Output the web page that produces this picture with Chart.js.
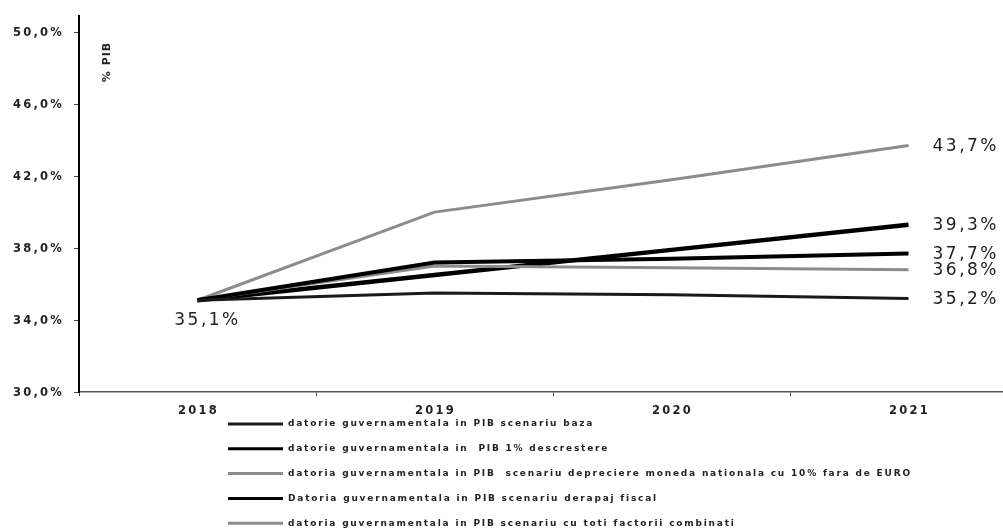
<!DOCTYPE html>
<html>
<head>
  <title>Datoria guvernamentala in PIB</title>
  <script src="https://cdn.jsdelivr.net/npm/chart.js"></script>
  <style>
    html, body {
      margin: 0;
      padding: 0;
      background: #ffffff;
      overflow: hidden;
    }
  </style>
</head>
<body>
<canvas id="debtChart" width="1040" height="529"></canvas>

<script>
  // data
  const years = ['2018', '2019', '2020', '2021'];
  const baza = [35.1, 35.5, 35.4, 35.2];
  const descrestere = [35.1, 37.2, 37.4, 37.7];
  const depreciere = [35.1, 37.0, 36.9, 36.8];
  const derapaj = [35.1, 36.5, 37.9, 39.3];
  const combinati = [35.1, 40.0, 41.8, 43.7];
  const yTicks = [30, 34, 38, 42, 46, 50];
  const seriesNames = [
    'datorie guvernamentala in PIB scenariu baza',
    'datorie guvernamentala in  PIB 1% descrestere',
    'datoria guvernamentala in PIB  scenariu depreciere moneda nationala cu 10% fara de EURO',
    'Datoria guvernamentala in PIB scenariu derapaj fiscal',
    'datoria guvernamentala in PIB scenariu cu toti factorii combinati'
  ];

  const fmt = v => v.toFixed(1).replace('.', ',') + '%';

  // all the text is drawn here so it can get the wide letter spacing of the original
  const textPlugin = {
    id: 'textPlugin',
    afterDraw(chart) {
      const ctx = chart.ctx;
      const xs = chart.scales.x;
      const ys = chart.scales.y;
      ctx.save();
      ctx.fillStyle = '#222';
      ctx.textBaseline = 'middle';

      // y tick labels
      ctx.font = 'bold 11.5px "DejaVu Sans"';
      ctx.letterSpacing = '2.2px';
      ctx.textAlign = 'right';
      yTicks.forEach(v => {
        ctx.fillText(fmt(v), 64, ys.getPixelForValue(v) + 1);
      });

      // x labels
      ctx.textAlign = 'center';
      years.forEach((y, i) => {
        ctx.fillText(y, xs.getPixelForValue(i) + 1, 411);
      });

      // % PIB
      ctx.save();
      ctx.translate(107, 62);
      ctx.rotate(-Math.PI / 2);
      ctx.font = 'bold 11px "DejaVu Sans"';
      ctx.letterSpacing = '1px';
      ctx.fillText('% PIB', 0, 0);
      ctx.restore();

      // value labels
      ctx.font = '17px "DejaVu Sans"';
      ctx.letterSpacing = '2.5px';
      ctx.textAlign = 'left';
      const lastX = xs.getPixelForValue(years.length - 1);
      chart.data.datasets.forEach(ds => {
        const v = ds.data[ds.data.length - 1];
        ctx.fillText(fmt(v), lastX + 24, ys.getPixelForValue(v) + 1);
      });
      ctx.textAlign = 'center';
      ctx.fillText(fmt(baza[0]), xs.getPixelForValue(0) + 10, ys.getPixelForValue(baza[0]) + 20);

      // legend
      ctx.font = 'bold 9px "DejaVu Sans"';
      ctx.letterSpacing = '1.8px';
      ctx.textAlign = 'left';
      chart.data.datasets.forEach((ds, i) => {
        const y = 424 + i * 24.8;
        ctx.strokeStyle = ds.borderColor;
        ctx.lineWidth = Math.min(ds.borderWidth, 3);
        ctx.beginPath();
        ctx.moveTo(228, y);
        ctx.lineTo(283, y);
        ctx.stroke();
        ctx.fillText(ds.label, 288, y);
      });
      ctx.restore();
    }
  };

  const ctx = document.getElementById('debtChart').getContext('2d');
  new Chart(ctx, {
    type: 'line',
    data: {
      labels: years,
      datasets: [
        { label: seriesNames[0], data: baza, borderColor: '#1a1a1a', borderWidth: 3 },
        { label: seriesNames[1], data: descrestere, borderColor: '#000000', borderWidth: 4 },
        { label: seriesNames[2], data: depreciere, borderColor: '#8c8c8c', borderWidth: 3 },
        { label: seriesNames[3], data: derapaj, borderColor: '#000000', borderWidth: 4.5 },
        { label: seriesNames[4], data: combinati, borderColor: '#8c8c8c', borderWidth: 3 }
      ].map(ds => Object.assign(ds, { pointRadius: 0, fill: false, tension: 0 }))
    },
    options: {
      responsive: false,
      animation: false,
      layout: { padding: { left: 74, right: 13, top: 16, bottom: 133 } },
      plugins: {
        legend: { display: false },
        tooltip: { enabled: false }
      },
      scales: {
        x: {
          offset: true,
          grid: { offset: true, drawOnChartArea: false, tickLength: 4, color: '#444' },
          border: { color: '#555', width: 1.5 },
          ticks: { display: false }
        },
        y: {
          min: 30,
          max: 50.9,
          afterBuildTicks: axis => {
            axis.ticks = yTicks.map(v => ({ value: v }));
          },
          grid: { drawOnChartArea: false, tickLength: 5, color: '#444' },
          border: { color: '#000', width: 2 },
          ticks: { display: false }
        }
      }
    },
    plugins: [textPlugin]
  });
</script>
</body>
</html>
